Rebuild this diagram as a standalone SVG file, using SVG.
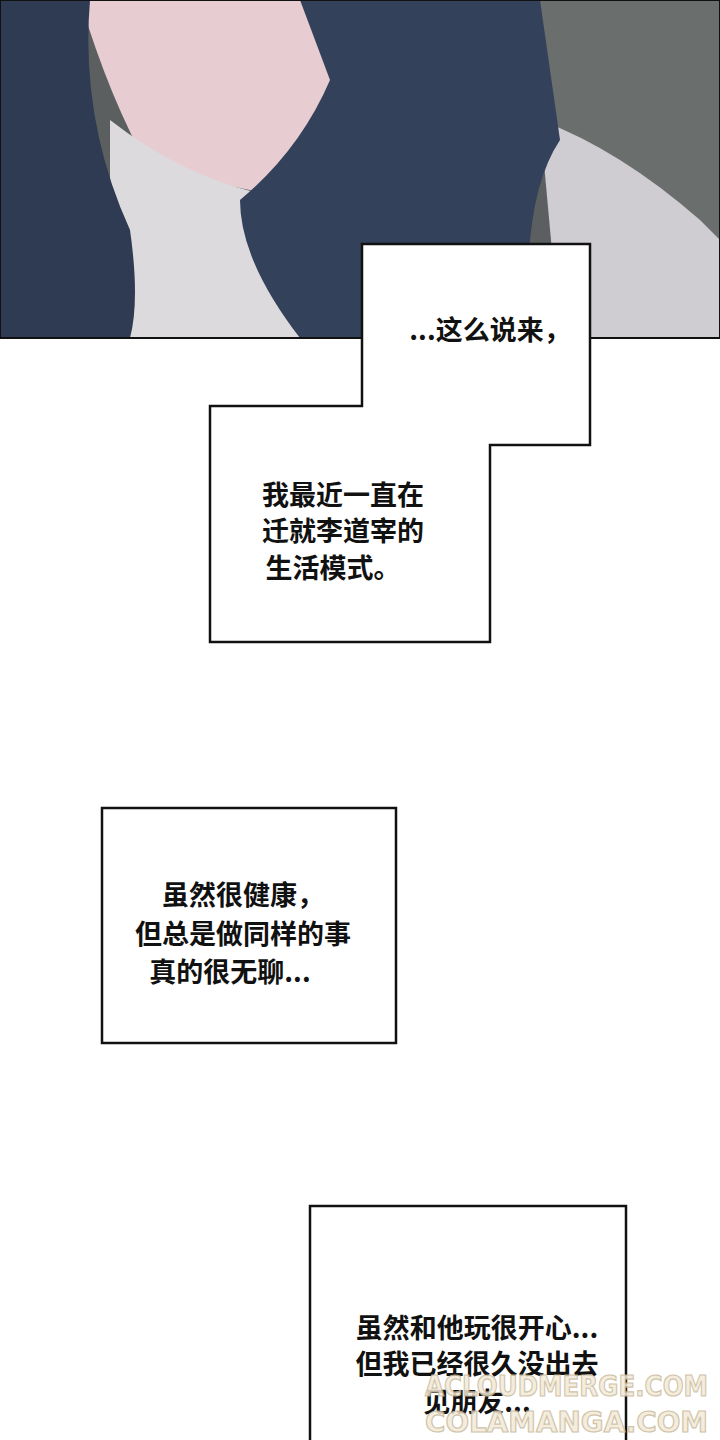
<svg xmlns="http://www.w3.org/2000/svg" width="720" height="1440" viewBox="0 0 720 1440">
<style>
.t{font-family:"Noto Sans CJK SC","Noto Sans",sans-serif;font-weight:bold;font-size:27px;fill:#111;text-anchor:middle}
.b{fill:#fff;stroke:#111;stroke-width:2.5}
.w{font-family:"DejaVu Sans",sans-serif;font-weight:bold;font-size:28px;fill:#f3ead8;stroke:#c9b99a;stroke-width:1.2;opacity:.85}
</style>
<rect width="720" height="1440" fill="#fff"/>
<g id="panel">
<rect x="0" y="0" width="720" height="338" fill="#5b5f60"/>
<path d="M540 0 L720 0 L720 338 L560 338 Z" fill="#6a6e6d"/>
<path d="M540 120 Q620 150 700 220 L720 240 L720 338 L560 338 Z" fill="#cfcdd2"/>
<path d="M80 0 L470 0 Q470 80 430 160 L300 200 L150 170 Q110 100 80 0 Z" fill="#e7cdd1"/>
<path d="M110 120 Q200 190 300 200 L430 160 L440 338 L110 338 Z" fill="#dcdadc"/>
<path d="M0 0 L90 0 Q80 120 130 230 Q140 300 130 338 L0 338 Z" fill="#2e3b52"/>
<path d="M300 0 L540 0 L560 140 Q520 200 530 338 L300 338 Q240 260 240 200 Q300 150 330 80 Z" fill="#33415a"/>
<rect x="0" y="0" width="720" height="338" fill="none" stroke="#111" stroke-width="2"/>
</g>
<g id="bubble1">
<path class="b" d="M362 244 L590 244 L590 445 L490 445 L490 642 L210 642 L210 406 L362 406 Z"/>
<text class="t" x="490" y="340">...这么说来，</text>
<text class="t" x="343" y="505">我最近一直在</text>
<text class="t" x="343" y="541">迁就李道宰的</text>
<text class="t" x="333" y="578">生活模式。</text>
</g>
<g id="bubble2">
<rect class="b" x="102" y="808" width="294" height="235"/>
<text class="t" x="243" y="905">虽然很健康，</text>
<text class="t" x="243" y="944">但总是做同样的事</text>
<text class="t" x="230" y="982">真的很无聊...</text>
</g>
<g id="bubble3">
<rect class="b" x="310" y="1206" width="316" height="250"/>
<text class="t" x="477" y="1338">虽然和他玩很开心...</text>
<text class="t" x="477" y="1374">但我已经很久没出去</text>
<text class="t" x="477" y="1412">见朋友...</text>
</g>
<g id="watermark">
<text class="w" x="425" y="1396" textLength="283" lengthAdjust="spacingAndGlyphs">ACLOUDMERGE.COM</text>
<text class="w" x="425" y="1432" textLength="283" lengthAdjust="spacingAndGlyphs">COLAMANGA.COM</text>
</g>
</svg>
